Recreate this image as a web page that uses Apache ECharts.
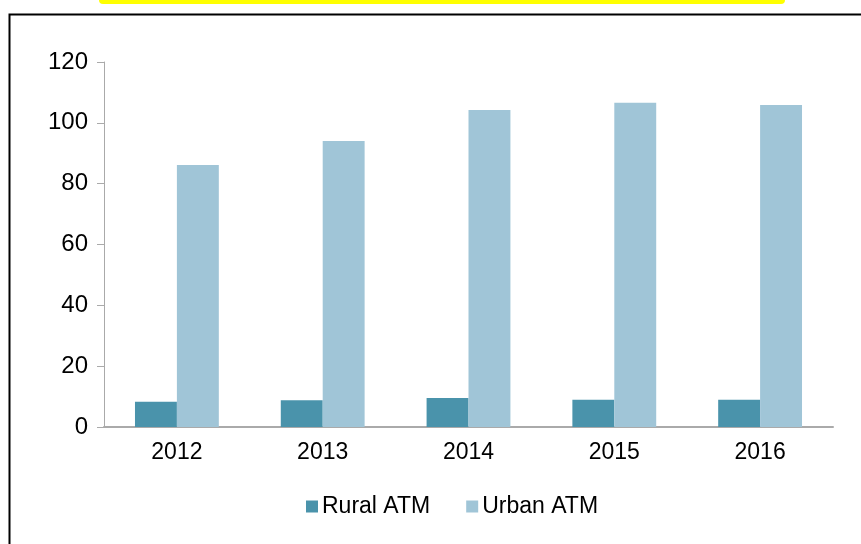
<!DOCTYPE html>
<html>
<head>
<meta charset="utf-8">
<script src="https://cdn.jsdelivr.net/npm/echarts@6/dist/echarts.min.js"></script>
<style>html,body{margin:0;padding:0;background:#fff;}#c{width:861px;height:544px;}</style>
</head>
<body>
<div id="c"></div>
<script>
const categories = ['2012', '2013', '2014', '2015', '2016'];
const ruralATM = [8.3, 8.8, 9.5, 9.0, 9.0];
const urbanATM = [86.1, 94.0, 104.2, 106.6, 105.9];
const seriesNames = ['Rural ATM', 'Urban ATM'];

const chart = echarts.init(document.getElementById('c'));
const font = 'Liberation Sans, Arial, sans-serif';
chart.setOption({
  animation: false,
  backgroundColor: '#fff',
  graphic: [
    { type: 'rect', shape: { x: 99, y: -6, width: 686, height: 10, r: 4 }, style: { fill: '#ffff00' } },
    { type: 'rect', shape: { x: 9.5, y: 14.5, width: 900, height: 600 }, style: { fill: 'none', stroke: '#000', lineWidth: 2 } }
  ],
  grid: { left: 104, right: 28, top: 62, bottom: 117 },
  legend: {
    data: seriesNames,
    top: 490,
    left: 301,
    itemWidth: 12,
    itemHeight: 12,
    itemGap: 36,
    icon: 'rect',
    textStyle: { fontFamily: font, fontSize: 23, color: '#000', padding: [0, 0, 0, -1] }
  },
  xAxis: {
    type: 'category',
    data: categories,
    axisLine: { lineStyle: { color: '#aaaaaa', width: 2 } },
    axisTick: { show: false },
    axisLabel: { fontFamily: font, fontSize: 23, color: '#000', margin: 14 }
  },
  yAxis: {
    type: 'value',
    min: 0, max: 120, interval: 20,
    axisLine: { show: true, lineStyle: { color: '#aaaaaa', width: 1 } },
    axisTick: { show: true, length: 7, lineStyle: { color: '#aaaaaa' } },
    splitLine: { show: false },
    axisLabel: { fontFamily: font, fontSize: 24, color: '#000', margin: 16 }
  },
  series: [
    { name: seriesNames[0], type: 'bar', data: ruralATM, barGap: '0%', barCategoryGap: '42.5%', itemStyle: { color: '#4a93ab' } },
    { name: seriesNames[1], type: 'bar', data: urbanATM, barGap: '0%', barCategoryGap: '42.5%', itemStyle: { color: '#a0c5d7' } }
  ]
});
</script>
</body>
</html>
